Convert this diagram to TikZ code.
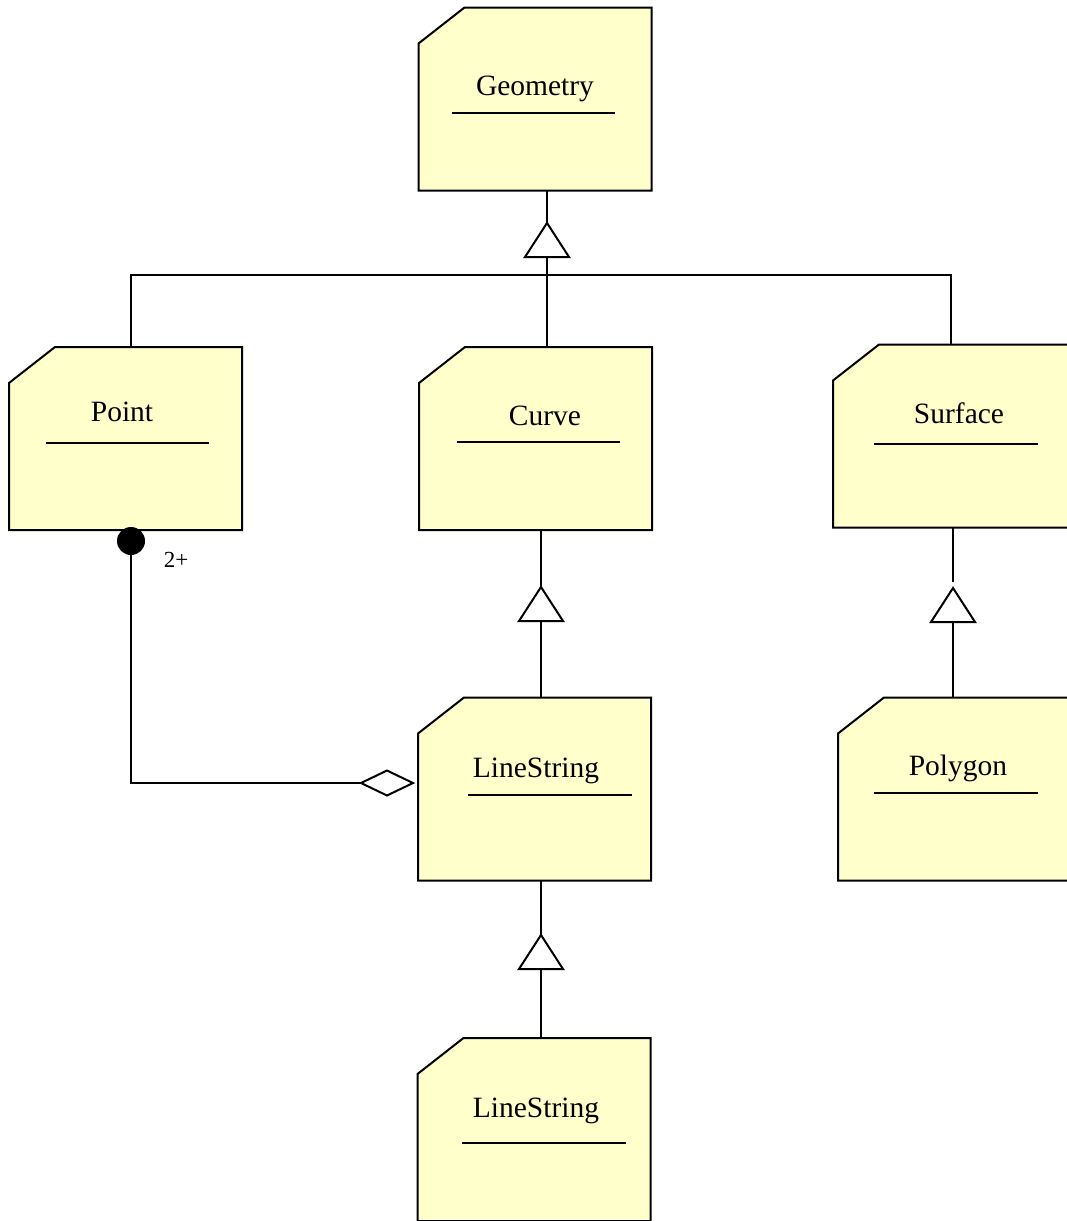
\documentclass[tikz,border=0pt]{standalone}
\usepackage{fontspec}
\setmainfont{Liberation Serif}
\usetikzlibrary{calc,shapes.geometric}

\definecolor{boxfill}{RGB}{255,255,204}

\tikzset{
  lw/.style={line width=2pt},
  classbox/.style={rectangle, draw=none, minimum width=233pt, minimum height=183pt,
    inner sep=0pt, outer sep=0pt},
  boxline/.style={lw, draw=black, fill=boxfill, line join=miter},
  classname/.style={anchor=base, inner sep=0pt, font=\fontsize{29.5}{32}\selectfont},
  multlabel/.style={anchor=base, inner sep=0pt, font=\fontsize{23}{26}\selectfont},
  conn/.style={lw, draw=black},
  gentri/.pic={
    \draw[lw, fill=white, line join=miter] (0,0) coordinate (-apex) -- (22,34) -- (-22,34) -- cycle;
    \coordinate (-base) at (0,34);
  },
  aggdiamond/.style={diamond, draw=black, fill=white, lw, minimum width=52pt,
    minimum height=25pt, inner sep=0pt, outer sep=0pt},
  ownerdot/.style={circle, fill=black, minimum size=28pt, inner sep=0pt, outer sep=0pt}
}

% outline of a class box with its top-left corner cut off
\newcommand{\chamferbox}[1]{%
  \filldraw[boxline] (#1.south west) -- ($(#1.north west)+(0,36)$)
    -- ($(#1.north west)+(46,0)$) -- (#1.north east) -- (#1.south east) -- cycle;}

\begin{document}
\begin{tikzpicture}[x=1pt, y=-1pt]
\useasboundingbox (0,0) rectangle (1066,1221);

% class boxes
\node[classbox] (geom)    at (535,99)      {};
\node[classbox] (point)   at (125.5,438.5) {};
\node[classbox] (curve)   at (535.5,438.5) {};
\node[classbox, minimum width=239pt] (surface) at (952.5,436) {};
\node[classbox] (ls)      at (534.5,789)   {};
\node[classbox, minimum width=234pt] (poly)    at (955,789)   {};
\node[classbox] (lsb)     at (534,1129.5)  {};

\foreach \b in {geom,point,curve,surface,ls,poly,lsb} {\chamferbox{\b}}

% class names with their compartment rules
\node[classname] (geomname)  at (535,95)   {Geometry};
\draw[lw] (452,113) -- (615,113);
\node[classname] (pointname) at (122,421)  {Point};
\draw[lw] (46,443) -- (209,443);
\node[classname] (curvename) at (545,425)  {Curve};
\draw[lw] (457,442) -- (620,442);
\node[classname] (surfname)  at (959,423)  {Surface};
\draw[lw] (874,444) -- (1038,444);
\node[classname] (lsname)    at (536,777)  {LineString};
\draw[lw] (468,795) -- (632,795);
\node[classname] (polyname)  at (958,775)  {Polygon};
\draw[lw] (874,793) -- (1038,793);
\node[classname] (lsbname)   at (536,1117) {LineString};
\draw[lw] (462,1143) -- (626,1143);

% generalisation: Point, Curve, Surface -> Geometry
\pic (tg) at (547,223) {gentri};
\coordinate (jp) at (131,275);
\coordinate (jc) at (547,275);
\coordinate (js) at (951,275);
\draw[conn] (geom.south -| tg-apex) -- (tg-apex);
\draw[conn] (tg-base) -- (jc) -- (curve.north -| jc);
\draw[conn] (point.north -| jp) -- (jp) -- (js) -- (surface.north -| js);

% generalisation: LineString -> Curve
\pic (tc) at (541,587) {gentri};
\draw[conn] (curve.south -| tc-apex) -- (tc-apex);
\draw[conn] (tc-base) -- (ls.north -| tc-base);

% generalisation: Polygon -> Surface
\pic (ts) at (953,588) {gentri};
\coordinate (sgap) at (953,582);
\draw[conn] (surface.south -| sgap) -- (sgap);
\draw[conn] (ts-base) -- (poly.north -| ts-base);

% generalisation: LineString -> LineString
\pic (tl) at (541,935) {gentri};
\draw[conn] (ls.south -| tl-apex) -- (tl-apex);
\draw[conn] (tl-base) -- (lsb.north -| tl-base);

% aggregation: LineString has 2+ Points
\node[aggdiamond] (agg) at (387,783) {};
\node[ownerdot] (dot) at (131,541) {};
\draw[conn] (dot.center) |- (agg.west);
\node[multlabel] (mult) at (176,567) {2+};

\end{tikzpicture}
\end{document}
